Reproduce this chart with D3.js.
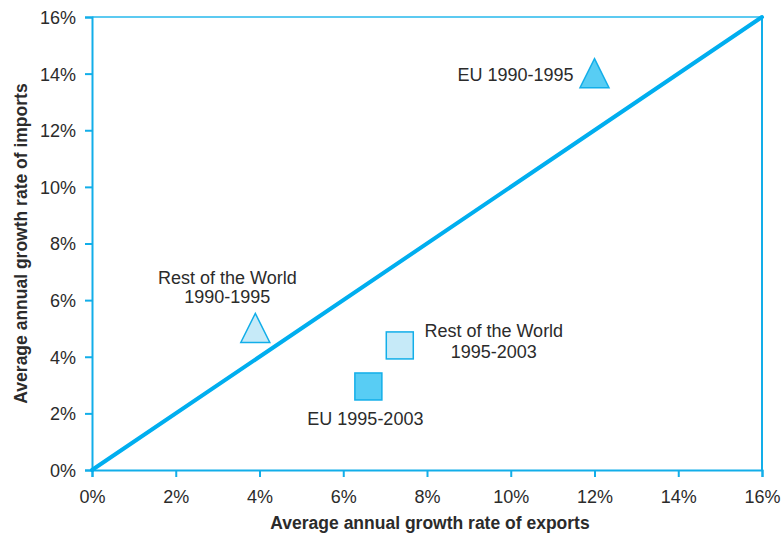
<!DOCTYPE html>
<html>
<head>
<meta charset="utf-8">
<script src="https://cdn.jsdelivr.net/npm/d3@7"></script>
<style>
  body { margin: 0; background: #fff; }
  text { font-family: "Liberation Sans", Arial, sans-serif; fill: #2b2b2b; }
</style>
</head>
<body>
<svg id="chart" width="784" height="533"></svg>
<script>
// data (growth rates, %)
const names = ["EU 1990-1995", "Rest of the World 1990-1995", "Rest of the World 1995-2003", "EU 1995-2003"];
const exportsGrowth = [12.0, 3.9, 7.35, 6.6];
const importsGrowth = [14.0, 5.0, 4.4, 2.95];
const shapes = ["triangle", "triangle", "square", "square"];
const shades = ["dark", "light", "light", "dark"];
const tickValues = [0, 2, 4, 6, 8, 10, 12, 14, 16];

const svg = d3.select("#chart");
const margin = { left: 92, top: 17, right: 22, bottom: 63 };
const W = 784, H = 533;

const x = d3.scaleLinear().domain([0, 16]).range([margin.left, W - margin.right]);
const y = d3.scaleLinear().domain([0, 16]).range([H - margin.bottom, margin.top]);

const blue = "#12aee9";
const fillColor = { dark: "#58cdf4", light: "#c6eaf8" };

// frame top & right
svg.append("line")
  .attr("x1", x(0)).attr("x2", x(16)).attr("y1", y(16)).attr("y2", y(16))
  .attr("stroke", "#5ccaf1").attr("stroke-width", 2);
svg.append("line")
  .attr("x1", x(16)).attr("x2", x(16)).attr("y1", y(16)).attr("y2", y(0))
  .attr("stroke", blue).attr("stroke-width", 2);

const xAxis = svg.append("g")
  .attr("transform", `translate(0,${y(0)})`)
  .call(d3.axisBottom(x).tickValues(tickValues).tickFormat(d => d + "%").tickSize(7).tickPadding(13));
const yAxis = svg.append("g")
  .attr("transform", `translate(${x(0)},0)`)
  .call(d3.axisLeft(y).tickValues(tickValues).tickFormat(d => d + "%").tickSize(7).tickPadding(9));

[xAxis, yAxis].forEach(a => {
  a.select(".domain").attr("stroke", blue).attr("stroke-width", 2);
  a.selectAll(".tick line").attr("stroke", blue).attr("stroke-width", 2);
  a.selectAll(".tick text").style("font-size", "18px").attr("fill", "#2b2b2b")
    .style("font-family", "'Liberation Sans', Arial, sans-serif");
});
yAxis.selectAll(".tick text").attr("dy", "0.36em");

// 45 degree line
svg.append("line")
  .attr("x1", x(0)).attr("y1", y(0)).attr("x2", x(16)).attr("y2", y(16))
  .attr("stroke", "#00aeef").attr("stroke-width", 4).attr("stroke-linecap", "round");

// markers
names.forEach((n, i) => {
  const cx = x(exportsGrowth[i]), cy = y(importsGrowth[i]);
  if (shapes[i] === "triangle") {
    svg.append("path")
      .attr("d", "M0,-15L14.5,14L-14.5,14Z")
      .attr("transform", `translate(${cx},${cy})`)
      .attr("fill", fillColor[shades[i]])
      .attr("stroke", blue).attr("stroke-width", 1.5);
  } else {
    svg.append("rect")
      .attr("x", cx - 13.5).attr("y", cy - 13.5)
      .attr("width", 27).attr("height", 27)
      .attr("fill", fillColor[shades[i]])
      .attr("stroke", blue).attr("stroke-width", 1.5);
  }
});

// point labels
const labels = [
  { i: 0, lines: ["EU 1990-1995"], anchor: "end", dx: -21, dy: [7.5] },
  { i: 1, lines: ["Rest of the World", "1990-1995"], anchor: "middle", dx: -28, dy: [-44.5, -25.5] },
  { i: 2, lines: ["Rest of the World", "1995-2003"], anchor: "middle", dx: 94, dy: [-8, 13] },
  { i: 3, lines: ["EU 1995-2003"], anchor: "middle", dx: -3, dy: [39] }
];
labels.forEach(l => {
  l.lines.forEach((t, k) => {
    svg.append("text")
      .attr("x", x(exportsGrowth[l.i]) + l.dx)
      .attr("y", y(importsGrowth[l.i]) + l.dy[k])
      .attr("text-anchor", l.anchor)
      .style("font-size", "18px")
      .text(t);
  });
});

// axis titles
svg.append("text")
  .attr("x", 430).attr("y", 529)
  .attr("text-anchor", "middle")
  .style("font-size", "17.5px").style("font-weight", "bold")
  .attr("fill", "#222")
  .text("Average annual growth rate of exports");
svg.append("text")
  .attr("transform", `translate(27,${(y(0) + y(16)) / 2}) rotate(-90)`)
  .attr("text-anchor", "middle")
  .style("font-size", "17.5px").style("font-weight", "bold")
  .attr("fill", "#222")
  .text("Average annual growth rate of imports");
</script>
</body>
</html>
